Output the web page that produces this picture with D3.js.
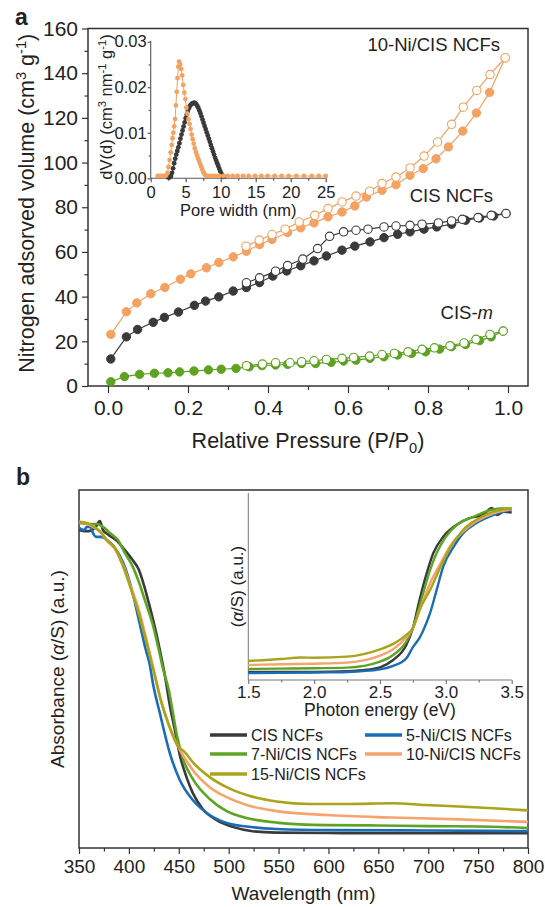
<!DOCTYPE html>
<html><head><meta charset="utf-8">
<script src="https://cdn.jsdelivr.net/npm/d3@7"></script>
<style>
body{margin:0;background:#fff}
svg{display:block}
text{font-family:"Liberation Sans",Arial,Helvetica,sans-serif;fill:#222}
</style>
</head><body>
<svg id="c" width="545" height="907"></svg>
<script>
// ---------- Panel a: N2 isotherms ----------
const niAdsP = [0.007,0.046,0.072,0.107,0.142,0.181,0.207,0.246,0.277,0.313,0.346,0.379,0.41,0.449,0.482,0.515,0.55,0.585,0.617,0.646,0.685,0.72,0.755,0.788,0.82,0.851,0.887,0.921,0.954,0.993];
const niAdsV = [23.1,33.2,37.2,41.3,44.1,47.8,50.2,52.9,55.3,57.8,60.3,63.3,65.6,68.7,70.8,73.0,75.7,77.9,80.6,84.6,87.6,90.1,94.3,97.3,101.7,107.0,114.1,122.2,131.4,146.9];
const niDesP = [0.993,0.955,0.922,0.888,0.859,0.824,0.79,0.755,0.72,0.685,0.654,0.62,0.585,0.55,0.517,0.478,0.443,0.41,0.378,0.345];
const niDesV = [146.9,139.4,132.3,124.8,117.1,109.2,102.9,97.6,93.5,90.6,87.2,85.0,82.4,79.4,76.4,73.4,70.2,67.8,65.3,62.6];

const cisAdsP = [0.007,0.046,0.074,0.113,0.141,0.176,0.216,0.244,0.277,0.313,0.346,0.379,0.412,0.447,0.482,0.515,0.546,0.585,0.617,0.655,0.69,0.724,0.755,0.79,0.822,0.859,0.894,0.929,0.964,0.995];
const cisAdsV = [12.1,22.0,25.3,28.5,30.7,33.1,36.1,38.0,39.9,42.5,44.1,46.3,49.2,51.5,53.8,56.0,58.2,60.8,62.6,64.5,66.4,67.9,69.0,70.2,71.2,72.4,74.2,75.2,76.1,77.2];
const cisDesP = [0.995,0.958,0.925,0.886,0.859,0.826,0.785,0.755,0.72,0.69,0.65,0.62,0.589,0.554,0.524,0.487,0.449,0.419,0.379,0.346];
const cisDesV = [77.2,76.4,75.4,74.6,73.9,73.0,72.4,71.9,71.6,71.2,70.2,69.7,69.0,67.0,61.5,56.8,53.9,51.4,48.4,46.2];

const mAdsP = [0.007,0.041,0.079,0.116,0.15,0.179,0.215,0.251,0.283,0.32,0.353,0.385,0.419,0.449,0.484,0.519,0.558,0.589,0.62,0.655,0.69,0.724,0.759,0.794,0.829,0.859,0.894,0.929,0.958,0.988];
const mAdsV = [1.9,4.2,5.2,5.7,5.9,6.3,6.7,7.2,7.5,7.9,8.6,9.1,9.4,9.7,10.1,10.1,10.6,11.2,11.6,12.4,13.1,13.9,14.6,15.3,16.5,17.6,18.6,20.3,22.0,24.6];
const mDesP = [0.988,0.955,0.92,0.89,0.855,0.816,0.785,0.75,0.716,0.685,0.654,0.614,0.585,0.546,0.515,0.484,0.455,0.419,0.386,0.346];
const mDesV = [24.6,23.1,20.9,19.3,18.0,17.1,16.4,15.3,14.6,14.1,13.4,12.8,12.4,11.9,11.3,10.9,10.4,10.4,9.8,9.1];

const isoXTicks = [0,0.2,0.4,0.6,0.8,1.0];
const isoYTicks = [0,20,40,60,80,100,120,140,160];

// ---------- Panel a inset: pore size distribution ----------
const psdNiW = [1.0,1.3,1.6,1.9,2.2,2.4,2.55,2.7,2.85,3.0,3.12,3.24,3.36,3.48,3.6,3.72,3.84,3.95,4.05,4.2,4.35,4.5,4.65,4.8,4.95,5.1,5.25,5.4,5.55,5.7,5.85,6.0,6.15,6.3,6.45,6.6,6.75,6.9,7.05,7.2,7.35,7.5,7.65,7.8,8.0,8.4,8.8,9.3,9.8,10.4,11.0,11.7,12.4,13.2,14.0,14.9,15.8,16.7,17.7,18.7,19.7,20.8,21.9,23.0,24.0,25.0];
const psdNiV = [0.0005,0.0005,0.0005,0.0005,0.0006,0.0012,0.0025,0.0040,0.0057,0.0073,0.0088,0.0100,0.0114,0.0130,0.0160,0.0190,0.0220,0.0245,0.0256,0.0250,0.0240,0.0226,0.0205,0.0188,0.0174,0.0155,0.0142,0.0130,0.0119,0.0108,0.0096,0.0086,0.0076,0.0066,0.0058,0.0051,0.0044,0.0038,0.0032,0.0026,0.0020,0.0014,0.0010,0.0007,0.0005,0.0005,0.0005,0.0005,0.0005,0.0005,0.0005,0.0005,0.0005,0.0005,0.0005,0.0005,0.0005,0.0005,0.0005,0.0005,0.0005,0.0005,0.0005,0.0005,0.0005,0.0005];
const psdCisW = [2.5,2.7,2.9,3.05,3.2,3.35,3.5,3.65,3.8,3.95,4.1,4.25,4.4,4.55,4.7,4.85,5.0,5.15,5.3,5.45,5.6,5.75,5.9,6.05,6.2,6.35,6.5,6.65,6.8,6.95,7.1,7.25,7.4,7.55,7.7,7.85,8.0,8.15,8.3,8.45,8.6,8.75,8.9,9.05,9.2,9.35,9.5,9.65,9.8,9.95,10.1,10.25,10.4];
const psdCisV = [0.0002,0.0002,0.0005,0.0012,0.0022,0.0033,0.0043,0.0052,0.0060,0.0068,0.0077,0.0087,0.0096,0.0105,0.0114,0.0123,0.0132,0.0140,0.0148,0.0154,0.0159,0.0162,0.0164,0.0165,0.0166,0.0165,0.0163,0.0159,0.0155,0.0149,0.0143,0.0136,0.0129,0.0122,0.0115,0.0108,0.0101,0.0094,0.0087,0.0080,0.0073,0.0066,0.0059,0.0052,0.0045,0.0039,0.0033,0.0027,0.0021,0.0015,0.0010,0.0006,0.0003];
const psdXTicks = [0,5,10,15,20,25];
const psdYTicks = [0,0.01,0.02,0.03];

// ---------- Panel b: absorbance spectra ----------
const absNames = ["CIS NCFs","5-Ni/CIS NCFs","7-Ni/CIS NCFs","10-Ni/CIS NCFs","15-Ni/CIS NCFs"];
const absColors = ["#3a3a3a","#1a6db5","#5ea324","#f4a46c","#aaa41c"];
const wlCis = [350,355,360,366,371,374,380,388,396,403,410,415,420,426,431,436,441,446,451,458,464,474,488,504,524,548,600,650,700,750,800];
const absCis = [0.888,0.885,0.885,0.894,0.913,0.888,0.874,0.858,0.832,0.807,0.777,0.735,0.684,0.617,0.553,0.483,0.399,0.330,0.260,0.196,0.154,0.109,0.078,0.059,0.047,0.043,0.042,0.041,0.041,0.041,0.041];
const wl5 = [350,355,358,361,364,367,372,378,386,394,403,410,417,421,424,431,441,451,464,478,498,518,548,600,700,800];
const abs5 = [0.894,0.888,0.897,0.897,0.880,0.869,0.869,0.860,0.838,0.799,0.721,0.637,0.553,0.511,0.461,0.377,0.265,0.190,0.134,0.098,0.070,0.060,0.053,0.050,0.049,0.047];
const wl7 = [350,360,368,374,381,389,396,403,410,417,424,430,434,440,444,448,454,464,481,498,518,548,598,650,700,750,800];
const abs7 = [0.908,0.905,0.905,0.897,0.880,0.860,0.824,0.791,0.743,0.684,0.623,0.553,0.503,0.441,0.380,0.316,0.251,0.193,0.137,0.103,0.084,0.071,0.064,0.063,0.061,0.060,0.056];
const wl10 = [350,358,364,371,378,386,394,403,410,417,425,432,440,449,456,464,481,498,518,548,598,664,731,800];
const abs10 = [0.911,0.905,0.897,0.883,0.858,0.835,0.791,0.721,0.665,0.589,0.497,0.413,0.344,0.285,0.251,0.218,0.170,0.142,0.120,0.103,0.092,0.085,0.080,0.073];
const wl15 = [350,358,364,371,378,386,394,403,410,417,425,432,440,449,456,464,481,498,518,548,581,620,664,697,731,765,800];
const abs15 = [0.911,0.908,0.899,0.885,0.860,0.838,0.788,0.715,0.654,0.581,0.492,0.413,0.344,0.285,0.268,0.240,0.198,0.170,0.148,0.130,0.123,0.123,0.125,0.120,0.116,0.111,0.105];
const wlTicks = [350,400,450,500,550,600,650,700,750,800];

// ---------- Panel b inset: vs photon energy ----------
const eCis = [1.5,1.75,2.0,2.25,2.4,2.5,2.6,2.7,2.75,2.8,2.855,2.905,2.98,3.08,3.18,3.28,3.35,3.39,3.44,3.5];
const kmCis = [0.043,0.043,0.043,0.047,0.055,0.068,0.107,0.187,0.278,0.428,0.572,0.679,0.766,0.829,0.865,0.882,0.920,0.882,0.900,0.895];
const e5 = [1.5,1.75,2.0,2.25,2.5,2.6,2.7,2.75,2.8,2.83,2.88,2.93,2.98,3.06,3.13,3.23,3.33,3.44,3.5];
const km5 = [0.037,0.038,0.040,0.043,0.057,0.075,0.116,0.176,0.225,0.267,0.357,0.481,0.606,0.713,0.784,0.838,0.873,0.900,0.909];
const e7 = [1.5,1.75,2.0,2.25,2.5,2.6,2.7,2.75,2.82,2.88,2.93,3.0,3.1,3.21,3.3,3.41,3.5];
const km7 = [0.059,0.061,0.063,0.066,0.098,0.134,0.205,0.278,0.445,0.588,0.679,0.766,0.838,0.873,0.900,0.918,0.918];
const e10 = [1.5,1.75,2.0,2.25,2.5,2.6,2.7,2.75,2.82,2.88,2.96,3.03,3.13,3.23,3.36,3.5];
const km10 = [0.080,0.084,0.087,0.093,0.130,0.164,0.228,0.278,0.410,0.517,0.624,0.713,0.793,0.847,0.891,0.913];
const e15 = [1.5,1.75,1.9,2.0,2.25,2.5,2.6,2.7,2.75,2.8,2.88,2.96,3.03,3.13,3.23,3.36,3.5];
const km15 = [0.102,0.112,0.120,0.119,0.125,0.164,0.193,0.241,0.278,0.374,0.481,0.606,0.704,0.802,0.856,0.900,0.918];
const eTicks = [1.5,2.0,2.5,3.0,3.5];

// ================= drawing =================
const svg = d3.select("#c");
const FF = '"Liberation Sans",Arial,Helvetica,sans-serif';
const zip = (xs, ys) => xs.map((x, i) => [x, ys[i]]);

function richText(g, parts, size) {
  const t = g.append("text").attr("font-size", size);
  let shift = 0;
  parts.forEach(p => {
    const sp = t.append("tspan").text(p.t);
    let target = 0, fs = size;
    if (p.sup) { target = -0.38 * size; fs = size * 0.68; }
    if (p.sub) { target = 0.22 * size; fs = size * 0.68; }
    sp.attr("dy", target - shift);
    if (fs !== size) sp.attr("font-size", fs);
    if (p.it) sp.attr("font-style", "italic");
    shift = target;
  });
  return t;
}

function styleAxis(g, color, size) {
  g.select(".domain").remove();
  g.selectAll("line").attr("stroke", color).attr("stroke-width", 1.2);
  g.selectAll("text").attr("font-size", size).attr("font-family", FF).attr("fill", "#222");
}

// ---------- Panel a ----------
const A = {l: 88, r: 528, t: 28.5, b: 386};
const xa = d3.scaleLinear().domain([-0.05, 1.05]).range([A.l, A.r]);
const ya = d3.scaleLinear().domain([0, 160]).range([A.b, A.t]);

svg.append("text").attr("x", 15).attr("y", 25).attr("font-size", 23).attr("font-weight", "bold").text("a");

const gA = svg.append("g");
gA.append("g").attr("transform", `translate(0,${A.b})`)
  .call(d3.axisBottom(xa).tickValues(isoXTicks).tickFormat(d3.format(".1f")).tickSize(7).tickPadding(7))
  .call(g => styleAxis(g, "#333", 21));
gA.append("g").attr("transform", `translate(0,${A.b})`)
  .call(d3.axisBottom(xa).tickValues([0.1, 0.3, 0.5, 0.7, 0.9]).tickFormat("").tickSize(4))
  .call(g => styleAxis(g, "#333", 21));
gA.append("g").attr("transform", `translate(${A.l},0)`)
  .call(d3.axisLeft(ya).tickValues(isoYTicks).tickSize(6).tickPadding(4))
  .call(g => styleAxis(g, "#333", 21));
gA.append("g").attr("transform", `translate(${A.l},0)`)
  .call(d3.axisLeft(ya).tickValues([10, 30, 50, 70, 90, 110, 130, 150]).tickFormat("").tickSize(3.5))
  .call(g => styleAxis(g, "#333", 21));
gA.append("rect").attr("x", A.l).attr("y", A.t).attr("width", A.r - A.l).attr("height", A.b - A.t)
  .attr("fill", "none").attr("stroke", "#333").attr("stroke-width", 1.5);

const lineA = d3.line().x(d => xa(d[0])).y(d => ya(d[1]));
function iso(adsP, adsV, desP, desV, col) {
  const ads = zip(adsP, adsV), des = zip(desP, desV);
  gA.append("path").datum(ads).attr("d", lineA).attr("fill", "none").attr("stroke", col).attr("stroke-width", 1.2);
  gA.append("path").datum(des).attr("d", lineA).attr("fill", "none").attr("stroke", col).attr("stroke-width", 1.2);
  gA.append("g").selectAll("circle").data(ads).join("circle")
    .attr("cx", d => xa(d[0])).attr("cy", d => ya(d[1])).attr("r", 4.2)
    .attr("fill", col).attr("stroke", col).attr("stroke-width", 1);
  gA.append("g").selectAll("circle").data(des).join("circle")
    .attr("cx", d => xa(d[0])).attr("cy", d => ya(d[1])).attr("r", 4.2)
    .attr("fill", "#fff").attr("stroke", col).attr("stroke-width", 1.1);
}
iso(mAdsP, mAdsV, mDesP, mDesV, "#5ea221");
iso(cisAdsP, cisAdsV, cisDesP, cisDesV, "#3a3a3a");
iso(niAdsP, niAdsV, niDesP, niDesV, "#f3a262");

gA.append("text").attr("x", 500).attr("y", 51).attr("text-anchor", "end").attr("font-size", 18.5).text("10-Ni/CIS NCFs");
gA.append("text").attr("x", 493).attr("y", 202).attr("text-anchor", "end").attr("font-size", 18.5).text("CIS NCFs");
const cm = gA.append("text").attr("x", 493).attr("y", 319).attr("text-anchor", "end").attr("font-size", 18.5);
cm.append("tspan").text("CIS-");
cm.append("tspan").attr("font-style", "italic").text("m");

richText(gA, [{t: "Relative Pressure (P/P"}, {t: "0", sub: true}, {t: ")"}], 21.5)
  .attr("x", (A.l + A.r) / 2).attr("y", 448).attr("text-anchor", "middle");
richText(gA, [{t: "Nitrogen adsorved volume (cm"}, {t: "3", sup: true}, {t: " g"}, {t: "-1", sup: true}, {t: ")"}], 21.5)
  .attr("text-anchor", "middle").attr("transform", `translate(34,${(A.t + A.b) / 2 - 4}) rotate(-90)`);

// ---------- Panel a inset ----------
const xs = d3.scaleLinear().domain([0, 25]).range([150.7, 325.7]);
const ys = d3.scaleLinear().domain([0, 0.03]).range([178.3, 41.7]);
const gI = svg.append("g");
gI.append("line").attr("x1", xs(0)).attr("x2", xs(0)).attr("y1", ys(0.0302)).attr("y2", ys(0)).attr("stroke", "#555").attr("stroke-width", 1.1);
gI.append("line").attr("x1", xs(0)).attr("x2", xs(25.1)).attr("y1", ys(0)).attr("y2", ys(0)).attr("stroke", "#555").attr("stroke-width", 1.1);
gI.append("g").attr("transform", `translate(0,${ys(0)})`)
  .call(d3.axisBottom(xs).tickValues(psdXTicks).tickFormat(d3.format("d")).tickSize(4).tickPadding(4))
  .call(g => styleAxis(g, "#555", 16.5));
gI.append("g").attr("transform", `translate(0,${ys(0)})`)
  .call(d3.axisBottom(xs).tickValues([2.5, 7.5, 12.5, 17.5, 22.5]).tickFormat("").tickSize(2.5))
  .call(g => styleAxis(g, "#555", 16.5));
gI.append("g").attr("transform", `translate(${xs(0)},0)`)
  .call(d3.axisLeft(ys).tickValues(psdYTicks).tickFormat(d3.format(".2f")).tickSize(3).tickPadding(1))
  .call(g => styleAxis(g, "#555", 16.5));
gI.append("g").attr("transform", `translate(${xs(0)},0)`)
  .call(d3.axisLeft(ys).tickValues([0.005, 0.015, 0.025]).tickFormat("").tickSize(2))
  .call(g => styleAxis(g, "#555", 16.5));

const lineI = d3.line().x(d => xs(d[0])).y(d => ys(d[1]));
function psd(w, v, col) {
  const pts = zip(w, v);
  gI.append("path").datum(pts).attr("d", lineI).attr("fill", "none").attr("stroke", col).attr("stroke-width", 1);
  gI.append("g").selectAll("circle").data(pts).join("circle")
    .attr("cx", d => xs(d[0])).attr("cy", d => ys(d[1])).attr("r", 2.4).attr("fill", col);
}
psd(psdCisW, psdCisV, "#3a3a3a");
psd(psdNiW, psdNiV, "#f3a262");

gI.append("text").attr("x", (xs(0) + xs(25)) / 2).attr("y", 216).attr("text-anchor", "middle").attr("font-size", 16.5).text("Pore width (nm)");
richText(gI, [{t: "dV(d) (cm"}, {t: "3", sup: true}, {t: " nm"}, {t: "-1", sup: true}, {t: " g"}, {t: "-1", sup: true}, {t: ")"}], 16.5)
  .attr("text-anchor", "middle").attr("transform", `translate(112,${(ys(0) + ys(0.03)) / 2 - 3}) rotate(-90)`);

// ---------- Panel b ----------
const B = {l: 79, r: 528, t: 490, b: 848};
const xb = d3.scaleLinear().domain([350, 800]).range([B.l, B.r]);
const yb = d3.scaleLinear().domain([0, 1]).range([B.b, B.t]);

svg.append("text").attr("x", 16).attr("y", 485).attr("font-size", 23).attr("font-weight", "bold").text("b");

const gB = svg.append("g");
gB.append("g").attr("transform", `translate(0,${B.b})`)
  .call(d3.axisBottom(xb).tickValues(wlTicks).tickFormat(d3.format("d")).tickSize(6).tickPadding(5.5))
  .call(g => styleAxis(g, "#333", 19));
gB.append("g").attr("transform", `translate(0,${B.b})`)
  .call(d3.axisBottom(xb).tickValues([375, 425, 475, 525, 575, 625, 675, 725, 775]).tickFormat("").tickSize(3.5))
  .call(g => styleAxis(g, "#333", 19));
gB.append("rect").attr("x", B.l).attr("y", B.t).attr("width", B.r - B.l).attr("height", B.b - B.t)
  .attr("fill", "none").attr("stroke", "#333").attr("stroke-width", 1.5);

const lineB = d3.line().x(d => xb(d[0])).y(d => yb(d[1])).curve(d3.curveMonotoneX);
const absSets = [[wlCis, absCis], [wl5, abs5], [wl7, abs7], [wl10, abs10], [wl15, abs15]];
absSets.forEach((s, i) => {
  gB.append("path").datum(zip(s[0], s[1])).attr("d", lineB).attr("fill", "none")
    .attr("stroke", absColors[i]).attr("stroke-width", 2.6).attr("stroke-linejoin", "round");
});

richText(gB, [{t: "Wavelength (nm)"}], 19).attr("x", (B.l + B.r) / 2).attr("y", 900).attr("text-anchor", "middle");
richText(gB, [{t: "Absorbance ("}, {t: "α", it: true}, {t: "/S) (a.u.)"}], 19)
  .attr("text-anchor", "middle").attr("transform", `translate(64,${(B.t + B.b) / 2}) rotate(-90)`);

// ---------- Panel b inset ----------
const xi = d3.scaleLinear().domain([1.5, 3.5]).range([248.3, 511.7]);
const yi = d3.scaleLinear().domain([0, 1]).range([680, 493]);
const gJ = svg.append("g");
gJ.append("line").attr("x1", xi(1.5)).attr("x2", xi(1.5)).attr("y1", yi(1)).attr("y2", yi(0)).attr("stroke", "#777").attr("stroke-width", 1);
gJ.append("line").attr("x1", xi(1.5)).attr("x2", xi(3.5)).attr("y1", yi(0)).attr("y2", yi(0)).attr("stroke", "#777").attr("stroke-width", 1);
gJ.append("g").attr("transform", `translate(0,${yi(0)})`)
  .call(d3.axisBottom(xi).tickValues(eTicks).tickFormat(d3.format(".1f")).tickSize(4).tickPadding(1.5))
  .call(g => styleAxis(g, "#777", 17));
gJ.append("g").attr("transform", `translate(0,${yi(0)})`)
  .call(d3.axisBottom(xi).tickValues([1.75, 2.25, 2.75, 3.25]).tickFormat("").tickSize(2.5))
  .call(g => styleAxis(g, "#777", 17));

const lineJ = d3.line().x(d => xi(d[0])).y(d => yi(d[1])).curve(d3.curveMonotoneX);
const kmSets = [[eCis, kmCis], [e5, km5], [e7, km7], [e10, km10], [e15, km15]];
kmSets.forEach((s, i) => {
  gJ.append("path").datum(zip(s[0], s[1])).attr("d", lineJ).attr("fill", "none")
    .attr("stroke", absColors[i]).attr("stroke-width", 2.4).attr("stroke-linejoin", "round");
});
gJ.append("text").attr("x", (xi(1.5) + xi(3.5)) / 2).attr("y", 716).attr("text-anchor", "middle").attr("font-size", 17.5).text("Photon energy (eV)");
richText(gJ, [{t: "("}, {t: "α", it: true}, {t: "/S) (a.u.)"}], 17)
  .attr("text-anchor", "middle").attr("transform", `translate(243,${(yi(0) + yi(1)) / 2}) rotate(-90)`);

// ---------- Legend ----------
const legPos = [[210, 735], [365, 735], [210, 754], [365, 754], [210, 774]];
const gL = svg.append("g");
absNames.forEach((n, i) => {
  const [lx, ly] = legPos[i];
  gL.append("line").attr("x1", lx).attr("x2", lx + 37).attr("y1", ly).attr("y2", ly)
    .attr("stroke", absColors[i]).attr("stroke-width", 3.5);
  gL.append("text").attr("x", lx + 41).attr("y", ly + 5.8).attr("font-size", 16).text(n);
});
</script>
</body></html>
